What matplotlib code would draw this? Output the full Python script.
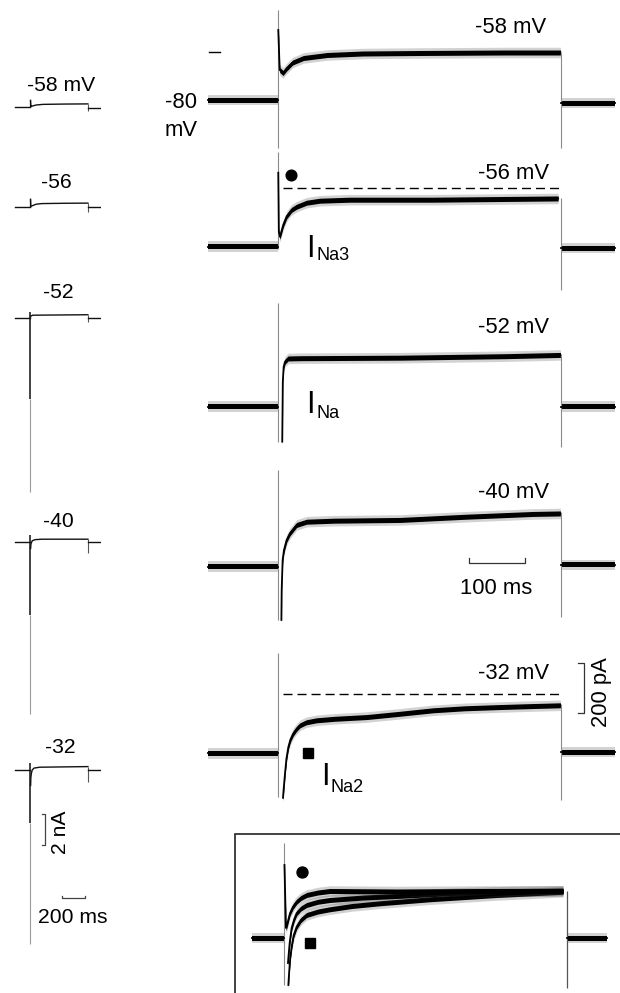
import matplotlib
matplotlib.use('Agg')
import matplotlib.pyplot as plt
from matplotlib.patches import Rectangle

plt.rcParams['font.family'] = ['Liberation Sans', 'DejaVu Sans']

# ------------------------------------------------------------------ data
right_labels = ['-58 mV', '-56 mV', '-52 mV', '-40 mV', '-32 mV']
left_labels = ['-58 mV', '-56', '-52', '-40', '-32']

# right-hand traces: time (ms from step onset), current (pA re holding level)
r_pre_t = [-124, 0]
r_post_t = [500, 595]
r58_t = [0.5, 3, 9, 15, 26, 45, 87, 150, 250, 400, 499]
r58_i = [280, 120, 108, 125, 150, 168, 180, 186, 188, 190, 190]
r56_t = [0.5, 1.5, 3.5, 9.4, 15.3, 24, 33, 50.6, 74, 127, 274, 495]
r56_i = [296, 60, 40, 88, 121, 147, 160, 176, 184, 188, 188, 193]
r52_t = [7.5, 8.5, 10, 12.4, 18, 40, 216, 400, 499]
r52_i = [-140, 100, 160, 180, 193, 194, 196, 202, 207]
r40_t = [6, 6.5, 8.2, 10.6, 15.3, 21, 33, 50.6, 98, 216, 333, 451, 499]
r40_i = [-213, -93, 27, 67, 107, 133, 167, 180, 184, 187, 200, 211, 213]
r32_t = [8.8, 10.5, 12.4, 15, 18.3, 22, 27, 33, 39, 50, 68, 100, 157, 215, 274,
         330, 392, 450, 499]
r32_i = [-178, -130, -80, -20, 25, 55, 79, 98, 112, 124, 132, 138, 145, 158, 172,
         180, 185, 189, 192]
r_steps_t = [r58_t, r56_t, r52_t, r40_t, r32_t]
r_steps_i = [r58_i, r56_i, r52_i, r40_i, r32_i]
r_post = [-12, -6, 0, 7, 5]
r_on_hi = [360, 380, 413, 387, 400]
r_on_lo = [-192, -10, -140, -213, -176]
r_off_lo = [-192, -172, -160, -200, -188]
zero_mark_t = [-122, -102]
zero_mark_i = 192
dash56_level = 235
dash32_level = 239
dash_t = [8.8, 500]
circle56 = (23, 287)
square32 = (53.5, 0)

# inset (superimposed traces)
in_pre_t = [-57, 0]
in_post_t = [500, 570]
in_top_t = [0.8, 3.5, 4.7, 10.6, 16, 22.4, 30, 40, 60, 81, 199, 350, 493]
in_top_i = [292, 40, 47, 99, 125, 145, 160, 172, 182, 188, 186, 188, 189]
in_mid_t = [7, 10, 13.5, 18, 22.4, 30, 40, 60, 81, 140, 199, 300, 400, 493]
in_mid_i = [-100, -20, 40, 75, 99, 118, 132, 145, 152, 162, 168, 180, 186, 189]
in_bot_t = [7.7, 9, 11, 13.5, 17, 22.4, 30, 40, 60, 81, 120, 170, 258, 376, 493]
in_bot_i = [-188, -140, -80, -35, 10, 45, 72, 92, 106, 115, 128, 139, 155, 172, 185]
in_on = (379, -188)
in_off_lo = -200
in_circle = (31, 263)
in_square = (46, -19)

# left-hand traces: time (ms), current (nA)
l_pre_t = [-135, 0]
l_post_t = [500, 604]
l58_t = [0.3, 3, 10, 50, 111, 300, 499]
l58_i = [0.43, 0.04, 0.05, 0.13, 0.17, 0.19, 0.2]
l56_t = [0.3, 3, 15, 50, 100, 300, 499]
l56_i = [0.52, 0.05, 0.1, 0.2, 0.24, 0.26, 0.27]
l52_t = [1, 3, 20, 499]
l52_i = [0.1, 0.15, 0.2, 0.23]
l40_t = [1, 4, 15, 40, 100, 499]
l40_i = [-0.4, -0.1, 0.1, 0.17, 0.2, 0.2]
l32_t = [1, 3, 8, 15, 30, 80, 499]
l32_i = [-1.0, -0.5, -0.2, 0.0, 0.12, 0.18, 0.22]
l_steps_t = [l58_t, l56_t, l52_t, l40_t, l32_t]
l_steps_i = [l58_i, l56_i, l52_i, l40_i, l32_i]
l_on_hi = [None, None, 0.43, 0.47, 0.43]
l_dark_lo = [None, None, -5.2, -4.7, -3.4]
l_peak = [None, None, -11.2, -11.1, -11.2]
l_off_lo = [-0.28, -0.28, -0.22, -0.71, -0.75]
l_post = [-0.04, 0.0, 0.0, 0.0, 0.0]

# scale bars
sb_right_t = 100      # ms
sb_right_i = 200      # pA
sb_left_t = 200       # ms
sb_left_i = 2         # nA

# ------------------------------------------------------------------ layout
W, H = 620, 993
fig = plt.figure(figsize=(6.2, 9.93), dpi=100)
fig.patch.set_facecolor('white')

R_PPT = 0.566   # px per ms (right)
R_PPI = 0.25    # px per pA
L_PPT = 0.115   # px per ms (left)
L_PPI = 15.5    # px per nA


def make_axes(t0_px, base_px, ppt, ppi, tlim, ilim):
    l = t0_px + tlim[0] * ppt
    r = t0_px + tlim[1] * ppt
    top = base_px - ilim[1] * ppi
    bot = base_px - ilim[0] * ppi
    ax = fig.add_axes([l / W, 1 - bot / H, (r - l) / W, (bot - top) / H])
    ax.set_xlim(*tlim)
    ax.set_ylim(*ilim)
    ax.axis('off')
    ax.patch.set_visible(False)
    return ax


def ftext(x, y, s, **kw):
    fig.text(x / W, 1 - y / H, s, **kw)


GRAY = '#8a8a8a'


def noisy(ax, t, i, d=10.0):
    lo1 = [v - 2.1 * d for v in i]
    hi1 = [v + 2.1 * d for v in i]
    lo = [v - d for v in i]
    hi = [v + d for v in i]
    ax.fill_between(t, lo1, hi1, color='#333333', alpha=0.22, lw=0)
    ax.fill_between(t, lo, hi, color='black', lw=0)
    ax.plot(t, i, color='black', lw=1.3)


# ---------------- right panels
r_bases = [100, 246.7, 406.7, 566.7, 753.3]
r_axes = []
for k in range(5):
    ax = make_axes(278, r_bases[k], R_PPT, R_PPI, (-130, 600), (-230, 420))
    r_axes.append(ax)
    ax.vlines(0, r_on_lo[k], r_on_hi[k], color=GRAY, lw=0.8)
    ax.vlines(500, r_off_lo[k], r_steps_i[k][-1], color=GRAY, lw=0.8)
    noisy(ax, r_pre_t, [0, 0])
    noisy(ax, r_steps_t[k], r_steps_i[k])
    noisy(ax, r_post_t, [r_post[k]] * 2)

r_axes[0].plot(zero_mark_t, [zero_mark_i] * 2, color='black', lw=1.0)
r_axes[1].plot(dash_t, [dash56_level] * 2, color='black', lw=1.0, dashes=[6.5, 3.6])
r_axes[4].plot(dash_t, [dash32_level] * 2, color='black', lw=1.0, dashes=[6.5, 3.6])
r_axes[1].plot(*circle56, 'o', color='black', ms=7.7)
r_axes[4].plot(*square32, 's', color='black', ms=6.7)

# 100 ms scale bar (panel -40)
ax = r_axes[3]
sx0 = 337
ax.plot([sx0, sx0, sx0 + sb_right_t, sx0 + sb_right_t], [35, 15, 15, 35],
        color='#333333', lw=0.9)
# 200 pA scale bar (panel -32)
ax = r_axes[4]
sy0 = 161
ax.plot([530, 541, 541, 530], [sy0, sy0, sy0 + sb_right_i, sy0 + sb_right_i],
        color='#333333', lw=0.9)

# ---------------- inset
ax = make_axes(284, 938, R_PPT, R_PPI, (-60, 575), (-230, 420))
ax.vlines(0, in_on[1], in_on[0], color=GRAY, lw=0.8)
ax.vlines(500, in_off_lo, in_top_i[-1], color='#555555', lw=0.9)
noisy(ax, in_pre_t, [0, 0])
noisy(ax, in_bot_t, in_bot_i)
noisy(ax, in_mid_t, in_mid_i)
noisy(ax, in_top_t, in_top_i)
noisy(ax, in_post_t, [0, 0])
ax.plot(*in_circle, 'o', color='black', ms=7.9)
ax.plot(*in_square, 's', color='black', ms=6.5)
fig.add_artist(Rectangle((235 / W, 1 - 1010 / H), (640 - 235) / W, (1010 - 834) / H,
                         transform=fig.transFigure, fill=False, lw=1.2, ec='#222222'))

# ---------------- left panels
l_bases = [107, 207.3, 318.3, 542.3, 770]
l_axes = []
for k in range(5):
    ax = make_axes(30.5, l_bases[k], L_PPT, L_PPI, (-140, 610), (-12, 1.5))
    l_axes.append(ax)
    ax.plot(l_pre_t, [0, 0], color='#111111', lw=1.0)
    if l_on_hi[k] is not None:
        ax.vlines(0, l_dark_lo[k], l_on_hi[k], color='#111111', lw=1.1)
        ax.vlines(0, l_peak[k], l_dark_lo[k], color='#9a9a9a', lw=0.8)
    else:
        ax.vlines(0, 0, l_steps_i[k][0], color='#111111', lw=0.9)
    ax.plot(l_steps_t[k], l_steps_i[k], color='#111111', lw=1.0)
    ax.vlines(500, l_off_lo[k], l_steps_i[k][-1], color='#555555', lw=0.8)
    ax.plot(l_post_t, [l_post[k]] * 2, color='#111111', lw=1.0)

ax = l_axes[4]
# 2 nA bar
ax.plot([97, 126, 126, 97], [-4.84, -4.84, -4.84 + sb_left_i, -4.84 + sb_left_i],
        color='#444444', lw=0.9)
# 200 ms bar
ax.plot([274, 274, 274 + sb_left_t, 274 + sb_left_t], [-8.1, -8.26, -8.26, -8.1],
        color='#444444', lw=0.9)

# ---------------- texts
FS_R = 15.8
FS_L = 15.2
r_lab_x = [511, 513, 513, 514, 514]
r_lab_y = [32.7, 179.3, 333.3, 498.3, 679]
for k in range(5):
    ftext(r_lab_x[k], r_lab_y[k], right_labels[k], ha='center', va='baseline', fontsize=FS_R)

l_lab_x = [61, 56.5, 58, 58.3, 60]
l_lab_y = [90.7, 188, 298, 526.7, 753.3]
for k in range(5):
    ftext(l_lab_x[k], l_lab_y[k], left_labels[k], ha='center', va='baseline', fontsize=FS_L)

ftext(165, 108.3, '-80', ha='left', va='baseline', fontsize=FS_R)
ftext(165, 136, 'mV', ha='left', va='baseline', fontsize=FS_R)
ftext(496, 594, '100 ms', ha='center', va='baseline', fontsize=FS_R)
ftext(601, 692, '200 pA', ha='center', va='center', rotation=90, fontsize=FS_R)
ftext(72.5, 923.3, '200 ms', ha='center', va='baseline', fontsize=FS_L)
ftext(61, 832, '2 nA', ha='center', va='center', rotation=90, fontsize=FS_L)

# I_Na labels
for (ix, iy, sx, sy, sub) in [(310.3, 256.7, 316, 260, 'Na3'),
                              (310.0, 412.7, 316, 418.3, 'Na'),
                              (325.8, 785, 331, 791.7, 'Na2')]:
    ftext(ix, iy, 'I', ha='center', va='baseline', fontsize=22)
    ftext(sx, sy, sub, ha='left', va='baseline', fontsize=13)

fig.savefig('out.png', dpi=100)
